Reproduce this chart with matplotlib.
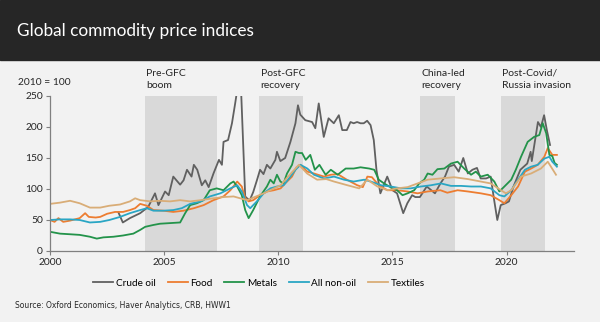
import matplotlib.pyplot as plt
from matplotlib.patches import Rectangle

# data (2010 = 100)
oil_t = [2003.0, 2003.19, 2003.5, 2003.95, 2004.3, 2004.6, 2004.75, 2005.04, 2005.2, 2005.4,
         2005.7, 2005.85, 2006.0, 2006.2, 2006.3, 2006.45, 2006.65, 2006.8, 2006.95, 2007.16,
         2007.4, 2007.53, 2007.6, 2007.8, 2007.97, 2008.11, 2008.25, 2008.36, 2008.55, 2008.63,
         2008.75, 2008.9, 2009.07, 2009.2, 2009.35, 2009.5, 2009.65, 2009.87, 2009.94, 2010.09,
         2010.3, 2010.53, 2010.75, 2010.86, 2010.96, 2011.18, 2011.48, 2011.62, 2011.77, 2011.99,
         2012.2, 2012.43, 2012.65, 2012.8, 2013.0, 2013.16, 2013.3, 2013.45, 2013.6, 2013.74,
         2013.89, 2014.04, 2014.18, 2014.3, 2014.47, 2014.77, 2015.0, 2015.2, 2015.47, 2015.65,
         2015.86, 2016.0, 2016.2, 2016.5, 2016.7, 2016.86, 2017.1, 2017.3, 2017.47, 2017.7,
         2017.9, 2018.1, 2018.3, 2018.5, 2018.7, 2018.86, 2019.1, 2019.3, 2019.44, 2019.59,
         2019.74, 2019.95, 2020.1, 2020.3, 2020.6, 2020.9, 2021.05, 2021.1, 2021.37, 2021.5,
         2021.64, 2021.76, 2021.9]
oil_v = [62, 46, 53, 61, 71, 93, 74, 96, 90, 120,
         107, 114, 131, 120, 139, 131, 106, 114, 103, 125,
         147, 139, 176, 179, 206, 238, 272, 268, 88, 85,
         82, 95, 115, 131, 124, 139, 133, 147, 160, 145,
         150, 176, 206, 235, 220, 211, 208, 198, 238, 184,
         214, 206, 219, 195, 195, 208, 206, 208, 206, 206,
         210, 203, 179, 130, 93, 120, 98, 93, 61, 77,
         90, 87, 87, 104, 98, 93, 109, 120, 136, 139,
         128, 150, 125, 131, 134, 117, 117, 120, 85, 50,
         74, 77, 80, 104, 131, 141, 160, 145, 208, 200,
         219, 195, 171]

food_t = [2000.0, 2000.2, 2000.37, 2000.58, 2000.88, 2001.3, 2001.54, 2001.7, 2002.0, 2002.2,
          2002.5, 2002.85, 2003.2, 2003.5, 2003.73, 2003.95, 2004.24, 2004.53, 2004.97, 2005.4,
          2005.85, 2006.3, 2006.73, 2007.16, 2007.6, 2007.9, 2008.2, 2008.4, 2008.55, 2008.7,
          2008.9, 2009.2, 2009.5, 2009.8, 2010.1, 2010.3, 2010.6, 2010.8, 2010.97, 2011.27,
          2011.56, 2012.0, 2012.3, 2012.6, 2013.0, 2013.46, 2013.7, 2013.9, 2014.1, 2014.4,
          2014.78, 2015.2, 2015.66, 2016.1, 2016.54, 2017.1, 2017.4, 2017.85, 2018.3, 2018.87,
          2019.3, 2019.68, 2019.9, 2020.2, 2020.5, 2020.8, 2021.07, 2021.36, 2021.65, 2021.8,
          2022.0, 2022.2]
food_v = [50, 47, 53, 47, 49, 53, 61, 55, 54, 55,
          60, 63, 63, 66, 69, 76, 73, 66, 65, 63,
          65, 69, 74, 82, 88, 98, 112, 104, 85, 80,
          82, 90, 96, 98, 101, 109, 120, 135, 139, 128,
          125, 120, 123, 124, 115, 106, 103, 120, 119, 106,
          98, 98, 96, 93, 96, 98, 94, 98, 96, 93,
          90, 82, 77, 90, 104, 128, 133, 139, 152, 166,
          155, 155]

metals_t = [2000.0, 2000.44, 2000.88, 2001.3, 2001.75, 2002.05, 2002.34, 2002.78, 2003.2, 2003.65,
            2003.95, 2004.17, 2004.53, 2004.82, 2005.26, 2005.7, 2005.92, 2006.14, 2006.43, 2006.73,
            2007.0, 2007.3, 2007.6, 2007.9, 2008.04, 2008.2, 2008.4, 2008.55, 2008.7, 2008.9,
            2009.2, 2009.5, 2009.65, 2009.8, 2009.94, 2010.09, 2010.23, 2010.38, 2010.6, 2010.75,
            2010.9, 2011.04, 2011.2, 2011.4, 2011.6, 2011.8, 2012.07, 2012.3, 2012.6, 2012.95,
            2013.3, 2013.6, 2013.98, 2014.2, 2014.4, 2014.63, 2015.0, 2015.2, 2015.44, 2015.66,
            2015.95, 2016.17, 2016.39, 2016.54, 2016.75, 2016.97, 2017.27, 2017.56, 2017.85, 2018.14,
            2018.44, 2018.65, 2018.87, 2019.17, 2019.46, 2019.68, 2019.9, 2020.2, 2020.4, 2020.63,
            2020.92, 2021.2, 2021.43, 2021.58, 2021.73, 2021.87, 2022.0, 2022.1, 2022.2]
metals_v = [31, 28, 27, 26, 23, 20, 22, 23, 25, 28,
            34, 39, 42, 44, 45, 46, 61, 74, 77, 82,
            98, 101, 98, 109, 112, 104, 90, 66, 53, 66,
            88, 104, 115, 109, 123, 112, 109, 125, 139, 160,
            158, 158, 147, 155, 131, 139, 123, 131, 123, 133,
            133, 135, 133, 131, 115, 109, 101, 98, 90, 93,
            98, 109, 115, 125, 123, 132, 133, 141, 144, 133,
            123, 128, 120, 123, 112, 96, 104, 115, 131, 152,
            176, 184, 187, 206, 190, 155, 153, 142, 139]

nonoil_t = [2000.0, 2000.44, 2000.88, 2001.3, 2001.75, 2002.2, 2002.6, 2003.07, 2003.5, 2003.95,
            2004.24, 2004.53, 2004.97, 2005.4, 2005.77, 2006.14, 2006.6, 2007.0, 2007.46, 2007.9,
            2008.2, 2008.4, 2008.63, 2008.77, 2009.06, 2009.36, 2009.65, 2009.94, 2010.23, 2010.53,
            2010.75, 2010.97, 2011.27, 2011.56, 2012.0, 2012.44, 2012.88, 2013.3, 2013.76, 2014.05,
            2014.5, 2014.93, 2015.37, 2015.8, 2016.24, 2016.68, 2017.12, 2017.56, 2018.0, 2018.44,
            2018.87, 2019.3, 2019.68, 2019.9, 2020.2, 2020.5, 2020.8, 2021.07, 2021.36, 2021.65,
            2021.87, 2022.0, 2022.2]
nonoil_v = [50, 51, 51, 50, 46, 47, 50, 55, 61, 66,
            69, 65, 65, 66, 69, 76, 80, 88, 93, 101,
            106, 96, 74, 69, 80, 93, 101, 104, 106, 120,
            131, 139, 133, 123, 117, 120, 115, 112, 115, 112,
            106, 104, 101, 101, 104, 106, 109, 105, 105, 104,
            104, 101, 90, 88, 98, 115, 131, 136, 139, 149,
            152, 144, 136]

textiles_t = [2000.0, 2000.44, 2000.88, 2001.3, 2001.75, 2002.2, 2002.6, 2003.07, 2003.5, 2003.73,
              2003.95, 2004.4, 2004.8, 2005.26, 2005.7, 2006.14, 2006.6, 2007.16, 2007.6, 2008.04,
              2008.33, 2008.63, 2009.36, 2010.1, 2010.5, 2010.9, 2011.26, 2011.7, 2012.1, 2012.44,
              2013.03, 2013.54, 2013.9, 2014.34, 2014.78, 2015.2, 2015.66, 2016.1, 2016.54, 2017.1,
              2017.7, 2018.3, 2018.87, 2019.3, 2019.75, 2019.97, 2020.2, 2020.63, 2021.07, 2021.5,
              2021.8, 2021.94, 2022.16]
textiles_v = [76, 78, 81, 77, 70, 70, 73, 75, 80, 85,
              82, 80, 81, 80, 82, 80, 82, 85, 87, 88,
              85, 82, 93, 106, 123, 139, 125, 115, 116, 112,
              106, 101, 115, 104, 98, 101, 103, 109, 115, 117,
              119, 116, 112, 109, 98, 93, 98, 120, 125, 133,
              144, 136, 123]

series = [
    ("Crude oil", oil_t, oil_v, "#606060"),
    ("Food", food_t, food_v, "#ed7d31"),
    ("Metals", metals_t, metals_v, "#23934a"),
    ("All non-oil", nonoil_t, nonoil_v, "#2aa6c4"),
    ("Textiles", textiles_t, textiles_v, "#d9ad77"),
]

episodes = [(2004.17, 2007.33, "Pre-GFC\nboom"),
            (2009.17, 2011.1, "Post-GFC\nrecovery"),
            (2016.22, 2017.72, "China-led\nrecovery"),
            (2019.75, 2021.7, "Post-Covid/\nRussia invasion")]

plt.rcParams['font.family'] = ['Lato', 'DejaVu Sans']

fig = plt.figure(figsize=(6, 3.22), dpi=100, facecolor="#f2f2f2")
fig.patches.append(Rectangle((0, 0.8137), 1, 0.1863, transform=fig.transFigure,
                             color="#262626", zorder=0))
fig.text(0.028, 0.903, "Global commodity price indices", color="white",
         fontsize=12.4, va="center", ha="left")

ax = fig.add_axes([0.0833, 0.2205, 0.8734, 0.4814])
ax.set_facecolor("#f2f2f2")

for x0, x1, label in episodes:
    ax.axvspan(x0, x1, color="#d9d9d9", lw=0, zorder=0)
    ax.text(x0 + 0.05, 260, label, fontsize=7.5, va="bottom", ha="left",
            linespacing=1.45, color="#262626", clip_on=False)

for name, t, v, c in series:
    ax.plot(t, v, color=c, lw=1.3, label=name)

ax.set_xlim(2000, 2022.95)
ax.set_ylim(0, 250)
ax.set_xticks([2000, 2005, 2010, 2015, 2020])
ax.set_yticks([0, 50, 100, 150, 200, 250])
ax.tick_params(labelsize=7.4, colors="#262626", length=3, width=0.8, pad=2)
ax.tick_params(axis="both", color="#808080")
for s in ["top", "right"]:
    ax.spines[s].set_visible(False)
for s in ["left", "bottom"]:
    ax.spines[s].set_color("#808080")
    ax.spines[s].set_linewidth(0.9)

fig.text(0.03, 0.745, "2010 = 100", fontsize=7.4, va="center", ha="left", color="#262626")

fig.legend(loc="center", bbox_to_anchor=(0.432, 0.121), ncol=5, frameon=False,
           fontsize=7.2, handlelength=2.0, handletextpad=0.25, columnspacing=1.2)

fig.text(0.025, 0.052, "Source: Oxford Economics, Haver Analytics, CRB, HWW1",
         fontsize=5.5, va="center", ha="left", color="#262626",
         family=["Liberation Sans Narrow", "DejaVu Sans"])

fig.savefig("out.png", dpi=100, facecolor=fig.get_facecolor())
